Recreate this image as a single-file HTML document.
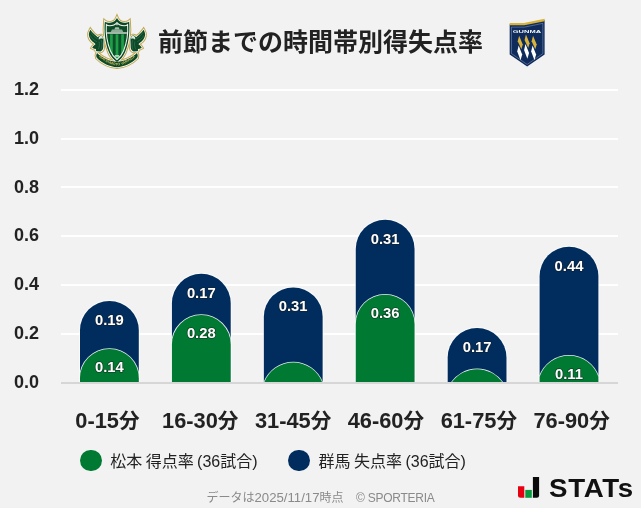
<!DOCTYPE html>
<html lang="ja">
<head>
<meta charset="utf-8">
<title>前節までの時間帯別得失点率</title>
<style>
html,body{margin:0;padding:0;}
body{width:641px;height:508px;background:#f2f2f2;position:relative;overflow:hidden;
font-family:"Liberation Sans","Noto Sans CJK JP",sans-serif;color:#222;}
.title{position:absolute;left:0;width:641px;top:21.5px;text-align:center;font-size:25px;font-weight:700;line-height:40px;letter-spacing:0px;color:#222;white-space:nowrap;}
.yl{position:absolute;left:14px;font-size:18px;font-weight:700;line-height:24px;height:24px;color:#222;}
.xl .k{font-size:20.6px;}
.xl{position:absolute;top:406.8px;width:120px;text-align:center;font-size:21.8px;font-weight:700;line-height:28px;color:#222;white-space:nowrap;}
svg.chart{position:absolute;left:0;top:0;}
.dl{font-family:"Liberation Sans","Noto Sans CJK JP",sans-serif;font-size:14.8px;letter-spacing:0px;font-weight:700;fill:#fff;text-anchor:middle;paint-order:stroke;stroke:#1a1a1a;stroke-width:1.6px;stroke-linejoin:round;stroke-opacity:.55}
.lg{position:absolute;top:449.5px;height:24px;line-height:24px;font-size:16px;word-spacing:-1px;color:#222;white-space:nowrap;}
.dot{position:absolute;width:21.6px;height:21.6px;border-radius:50%;top:449.5px;}
.foot{position:absolute;top:489px;font-size:12px;line-height:18px;color:#8a8a8a;white-space:nowrap;}
.foot .n{font-size:13.2px;}
.foot2{position:absolute;top:488.9px;left:356px;font-size:12px;letter-spacing:-.25px;line-height:18px;color:#8a8a8a;white-space:nowrap;}
.stats{position:absolute;left:548.5px;top:472.9px;font-size:25.2px;font-weight:700;line-height:30px;color:#111;letter-spacing:.6px;white-space:nowrap;transform:scaleX(1.10);transform-origin:0 0;}
</style>
</head>
<body>
<svg class="chart" width="641" height="508" viewBox="0 0 641 508">
<rect x="61" y="333" width="557" height="2" fill="#ffffff"/>
<rect x="61" y="284" width="557" height="2" fill="#ffffff"/>
<rect x="61" y="235" width="557" height="2" fill="#ffffff"/>
<rect x="61" y="186" width="557" height="2" fill="#ffffff"/>
<rect x="61" y="138" width="557" height="2" fill="#ffffff"/>
<rect x="61" y="89" width="557" height="2" fill="#ffffff"/>
<clipPath id="ca"><rect x="0" y="0" width="641" height="382"/></clipPath><g clip-path="url(#ca)">
<path d="M80.00,422.80 L80.00,330.37 A29.40,29.40 0 0 1 138.80,330.37 L138.80,422.80 Z" fill="none" stroke="#ffffff" stroke-opacity="0.6" stroke-width="2"/><path d="M80.00,422.80 L80.00,330.37 A29.40,29.40 0 0 1 138.80,330.37 L138.80,422.80 Z" fill="#002d5e"/>
<path d="M80.00,422.80 L80.00,378.31 A29.40,29.40 0 0 1 138.80,378.31 L138.80,422.80 Z" fill="none" stroke="#ffffff" stroke-opacity="0.9" stroke-width="1.5"/>
<path d="M80.00,422.80 L80.00,378.31 A29.40,29.40 0 0 1 138.80,378.31 L138.80,422.80 Z" fill="#007a33"/>
<text class="dl" x="109.4" y="325.0">0.19</text>
<text class="dl" x="109.4" y="372.3">0.14</text>
<path d="M171.92,422.80 L171.92,303.26 A29.40,29.40 0 0 1 230.72,303.26 L230.72,422.80 Z" fill="none" stroke="#ffffff" stroke-opacity="0.6" stroke-width="2"/><path d="M171.92,422.80 L171.92,303.26 A29.40,29.40 0 0 1 230.72,303.26 L230.72,422.80 Z" fill="#002d5e"/>
<path d="M171.92,422.80 L171.92,344.42 A29.40,29.40 0 0 1 230.72,344.42 L230.72,422.80 Z" fill="none" stroke="#ffffff" stroke-opacity="0.9" stroke-width="1.5"/>
<path d="M171.92,422.80 L171.92,344.42 A29.40,29.40 0 0 1 230.72,344.42 L230.72,422.80 Z" fill="#007a33"/>
<text class="dl" x="201.3" y="297.9">0.17</text>
<text class="dl" x="201.3" y="338.4">0.28</text>
<path d="M263.84,422.80 L263.84,316.81 A29.40,29.40 0 0 1 322.64,316.81 L322.64,422.80 Z" fill="none" stroke="#ffffff" stroke-opacity="0.6" stroke-width="2"/><path d="M263.84,422.80 L263.84,316.81 A29.40,29.40 0 0 1 322.64,316.81 L322.64,422.80 Z" fill="#002d5e"/>
<path d="M264.13,382.80 A31.00,31.00 0 0 1 322.35,382.80 Z" fill="none" stroke="#ffffff" stroke-opacity="0.9" stroke-width="1.5"/>
<path d="M264.13,382.80 A31.00,31.00 0 0 1 322.35,382.80 Z" fill="#007a33"/>
<text class="dl" x="293.2" y="311.4">0.31</text>
<path d="M355.76,422.80 L355.76,249.03 A29.40,29.40 0 0 1 414.56,249.03 L414.56,422.80 Z" fill="none" stroke="#ffffff" stroke-opacity="0.6" stroke-width="2"/><path d="M355.76,422.80 L355.76,249.03 A29.40,29.40 0 0 1 414.56,249.03 L414.56,422.80 Z" fill="#002d5e"/>
<path d="M355.76,422.80 L355.76,324.09 A29.40,29.40 0 0 1 414.56,324.09 L414.56,422.80 Z" fill="none" stroke="#ffffff" stroke-opacity="0.9" stroke-width="1.5"/>
<path d="M355.76,422.80 L355.76,324.09 A29.40,29.40 0 0 1 414.56,324.09 L414.56,422.80 Z" fill="#007a33"/>
<text class="dl" x="385.2" y="243.6">0.31</text>
<text class="dl" x="385.2" y="318.1">0.36</text>
<path d="M447.68,422.80 L447.68,357.48 A29.40,29.40 0 0 1 506.48,357.48 L506.48,422.80 Z" fill="none" stroke="#ffffff" stroke-opacity="0.6" stroke-width="2"/><path d="M447.68,422.80 L447.68,357.48 A29.40,29.40 0 0 1 506.48,357.48 L506.48,422.80 Z" fill="#002d5e"/>
<path d="M451.45,382.80 A31.00,31.00 0 0 1 502.71,382.80 Z" fill="none" stroke="#ffffff" stroke-opacity="0.9" stroke-width="1.5"/>
<path d="M451.45,382.80 A31.00,31.00 0 0 1 502.71,382.80 Z" fill="#007a33"/>
<text class="dl" x="477.1" y="352.1">0.17</text>
<path d="M539.60,422.80 L539.60,276.14 A29.40,29.40 0 0 1 598.40,276.14 L598.40,422.80 Z" fill="none" stroke="#ffffff" stroke-opacity="0.6" stroke-width="2"/><path d="M539.60,422.80 L539.60,276.14 A29.40,29.40 0 0 1 598.40,276.14 L598.40,422.80 Z" fill="#002d5e"/>
<path d="M539.60,422.80 L539.60,376.86 A31.00,31.00 0 0 1 598.40,376.86 L598.40,422.80 Z" fill="none" stroke="#ffffff" stroke-opacity="0.9" stroke-width="1.5"/>
<path d="M539.60,422.80 L539.60,376.86 A31.00,31.00 0 0 1 598.40,376.86 L598.40,422.80 Z" fill="#007a33"/>
<text class="dl" x="569.0" y="270.7">0.44</text>
<text class="dl" x="569.0" y="379.1">0.11</text>
</g>
<rect x="61" y="382" width="557" height="2" fill="#d6d6d6"/>
</svg>
<div class="title">前節までの時間帯別得失点率</div>
<div class="yl" style="top:369.7px">0.0</div>
<div class="yl" style="top:320.9px">0.2</div>
<div class="yl" style="top:272.1px">0.4</div>
<div class="yl" style="top:223.3px">0.6</div>
<div class="yl" style="top:174.5px">0.8</div>
<div class="yl" style="top:125.7px">1.0</div>
<div class="yl" style="top:76.9px">1.2</div>

<div class="xl" style="left:47.4px">0-15<span class="k">分</span></div>
<div class="xl" style="left:140.2px">16-30<span class="k">分</span></div>
<div class="xl" style="left:233.1px">31-45<span class="k">分</span></div>
<div class="xl" style="left:325.9px">46-60<span class="k">分</span></div>
<div class="xl" style="left:418.8px">61-75<span class="k">分</span></div>
<div class="xl" style="left:511.6px">76-90<span class="k">分</span></div>

<div class="dot" style="left:80.2px;background:#007a33"></div>
<div class="lg" style="left:110.2px">松本 得点率 (36試合)</div>
<div class="dot" style="left:288.4px;background:#002d5e"></div>
<div class="lg" style="left:318.6px">群馬 失点率 (36試合)</div>
<div class="foot" style="left:206.5px">データは<span class="n">2025/11/17</span>時点</div>
<div class="foot2">© SPORTERIA</div>
<svg style="position:absolute;left:516px;top:475px" width="26" height="24" viewBox="516 475 26 24">
<path d="M518,486.2 h6.3 v11.6 h-3.8 a2.5,2.5 0 0 1 -2.5,-2.5 z" fill="#e60012"/>
<rect x="525.3" y="489.9" width="6.5" height="7.9" fill="#089a3f"/>
<path d="M532.9,477 h6.2 v18.3 a2.5,2.5 0 0 1 -2.5,2.5 h-3.7 z" fill="#0a0a0a"/>
</svg>
<div class="stats">STATs</div>
<svg style="position:absolute;left:80px;top:10px" width="70" height="65" viewBox="0 0 547 508">
<path d="M81,155C72,170,67,186,70,202C74,224,90,246,112,258C118,262,122,266,119,270C110,276,101,284,95,295C105,301,116,305,126,305C122,313,124,321,130,323L160,325C174,319,182,305,182,291L184,234C184,216,178,204,166,200C156,198,146,204,140,212C122,202,98,180,81,155Z" fill="#c2a958" stroke="#c2a958" stroke-width="28" stroke-linejoin="miter" stroke-miterlimit="3"/>
<path d="M497,155 C506,170 511,186 508,202 C504,224 488,246 466,258 C460,262 456,266 459,270 C468,276 477,284 483,295 C473,301 462,305 452,305 C456,313 454,321 448,323 L418,325 C404,319 396,305 396,291 L394,234 C394,216 400,204 412,200 C422,198 432,204 438,212 C456,202 480,180 497,155 Z" fill="#c2a958" stroke="#c2a958" stroke-width="28" stroke-linejoin="miter" stroke-miterlimit="3"/>
<path d="M133,337 C170,372 235,405 289,405 C343,405 408,372 445,337 C453,350 453,362 447,374 C408,415 343,447 289,447 C235,447 170,415 131,374 C125,362 125,350 133,337 Z" fill="#c2a958" stroke="#c2a958" stroke-width="28" stroke-linejoin="miter" stroke-miterlimit="3"/>
<path d="M289,61 C297,80 318,100 345,100 C362,100 375,97 384,89 C390,150 386,250 352,330 C336,366 312,392 289,406 C266,392 242,366 226,330 C192,250 188,150 194,89 C203,97 216,100 233,100 C260,100 281,80 289,61 Z" fill="#c2a958" stroke="#c2a958" stroke-width="28" stroke-linejoin="miter" stroke-miterlimit="3"/>
<path d="M81,155C72,170,67,186,70,202C74,224,90,246,112,258C118,262,122,266,119,270C110,276,101,284,95,295C105,301,116,305,126,305C122,313,124,321,130,323L160,325C174,319,182,305,182,291L184,234C184,216,178,204,166,200C156,198,146,204,140,212C122,202,98,180,81,155Z" fill="#fffdf2" stroke="#fffdf2" stroke-width="12" stroke-linejoin="miter" stroke-miterlimit="3"/>
<path d="M497,155 C506,170 511,186 508,202 C504,224 488,246 466,258 C460,262 456,266 459,270 C468,276 477,284 483,295 C473,301 462,305 452,305 C456,313 454,321 448,323 L418,325 C404,319 396,305 396,291 L394,234 C394,216 400,204 412,200 C422,198 432,204 438,212 C456,202 480,180 497,155 Z" fill="#fffdf2" stroke="#fffdf2" stroke-width="12" stroke-linejoin="miter" stroke-miterlimit="3"/>
<path d="M133,337 C170,372 235,405 289,405 C343,405 408,372 445,337 C453,350 453,362 447,374 C408,415 343,447 289,447 C235,447 170,415 131,374 C125,362 125,350 133,337 Z" fill="#fffdf2" stroke="#fffdf2" stroke-width="12" stroke-linejoin="miter" stroke-miterlimit="3"/>
<path d="M289,61 C297,80 318,100 345,100 C362,100 375,97 384,89 C390,150 386,250 352,330 C336,366 312,392 289,406 C266,392 242,366 226,330 C192,250 188,150 194,89 C203,97 216,100 233,100 C260,100 281,80 289,61 Z" fill="#fffdf2" stroke="#fffdf2" stroke-width="12" stroke-linejoin="miter" stroke-miterlimit="3"/>
<path d="M81,155C72,170,67,186,70,202C74,224,90,246,112,258C118,262,122,266,119,270C110,276,101,284,95,295C105,301,116,305,126,305C122,313,124,321,130,323L160,325C174,319,182,305,182,291L184,234C184,216,178,204,166,200C156,198,146,204,140,212C122,202,98,180,81,155Z" fill="#0c4a27"/>
<path d="M497,155 C506,170 511,186 508,202 C504,224 488,246 466,258 C460,262 456,266 459,270 C468,276 477,284 483,295 C473,301 462,305 452,305 C456,313 454,321 448,323 L418,325 C404,319 396,305 396,291 L394,234 C394,216 400,204 412,200 C422,198 432,204 438,212 C456,202 480,180 497,155 Z" fill="#0c4a27"/>
<path d="M88,178C100,198,116,214,134,224M80,200C92,222,110,238,128,246M166,236C174,256,174,284,166,306M150,250C154,268,152,288,144,304" stroke="#4a8160" stroke-width="4" fill="none" stroke-linecap="round"/>
<path d="M490,178C478,198,462,214,444,224M498,200C486,222,468,238,450,246M412,236C404,256,404,284,412,306M428,250C424,268,426,288,434,304" stroke="#4a8160" stroke-width="4" fill="none" stroke-linecap="round"/>
<path d="M178,214C176,204,164,200,154,206C146,212,144,222,148,232C154,224,164,220,178,226Z" fill="#dfe8df"/>
<path d="M400,214C402,204,414,200,424,206C432,212,434,222,430,232C424,224,414,220,400,226Z" fill="#dfe8df"/>
<path d="M289,61 C297,80 318,100 345,100 C362,100 375,97 384,89 C390,150 386,250 352,330 C336,366 312,392 289,406 C266,392 242,366 226,330 C192,250 188,150 194,89 C203,97 216,100 233,100 C260,100 281,80 289,61 Z" fill="#0c4a27"/>
<clipPath id="mclip"><path d="M289,99 C300,112 322,123 345,123 C358,123 367,120 372,115 C376,170 368,250 340,320 C328,350 308,372 289,387 C270,372 250,350 238,320 C210,250 202,170 206,115 C211,120 220,123 233,123 C256,123 278,112 289,99 Z"/></clipPath>
<g clip-path="url(#mclip)">
<rect x="195" y="80" width="190" height="112" fill="#0c4a27"/>
<rect x="195" y="190" width="190" height="210" fill="#0a5127"/>
<rect x="235" y="190" width="21" height="210" fill="#1f9d49"/>
<rect x="278.5" y="190" width="21" height="210" fill="#1f9d49"/>
<rect x="322" y="190" width="21" height="210" fill="#1f9d49"/>
<rect x="212" y="172" width="154" height="14" fill="#c2d3c6"/>
<path d="M240,171 L250,152 L328,152 L338,171 Z" fill="#8fae9a"/>
<path d="M268,152 L276,134 L302,134 L310,152 Z" fill="#a9c1b0"/>
<circle cx="289" cy="113" r="7" fill="#b5cabb"/>
<rect x="212" y="176" width="154" height="3" fill="#0c4a27" opacity=".5"/>
<rect x="272" y="352" width="34" height="14" fill="#d4e2d6" opacity=".85"/>
</g>
<path d="M289,99 C300,112 322,123 345,123 C358,123 367,120 372,115 C376,170 368,250 340,320 C328,350 308,372 289,387 C270,372 250,350 238,320 C210,250 202,170 206,115 C211,120 220,123 233,123 C256,123 278,112 289,99 Z" fill="none" stroke="#f1f5ee" stroke-width="8" stroke-linejoin="miter"/>
<path d="M133,337 C170,372 235,405 289,405 C343,405 408,372 445,337 C453,350 453,362 447,374 C408,415 343,447 289,447 C235,447 170,415 131,374 C125,362 125,350 133,337 Z" fill="#0c4a27"/>
<path id="rbp" d="M146,366 C190,402 245,434 289,434 C333,434 388,402 432,366" fill="none"/>
<text font-family="Liberation Sans,sans-serif" font-weight="700" font-size="29" fill="#d0b658" letter-spacing="0"><textPath href="#rbp" startOffset="50%" text-anchor="middle">MATSUMOTO YAMAGA</textPath></text>
</svg>
<svg style="position:absolute;left:500px;top:12px" width="55" height="60" viewBox="0 0 466 508">
<path d="M82,104 L205,104 L378,68 L378,360 L230,462 L82,360 Z" fill="#0e2b5c"/>
<path d="M82,93 L203,93 L378,57 L378,78 L206,113 L82,113 Z" fill="#d8b23a"/>
<path d="M97,128 L207,128 L363,96 L363,352 L230,444 L97,352 Z" fill="none" stroke="#cfd6e6" stroke-width="3"/>
<text x="228" y="179" text-anchor="middle" font-family="Liberation Sans,sans-serif" font-weight="700" font-size="34" fill="#f4f6fa" textLength="240" lengthAdjust="spacingAndGlyphs">GUNMA</text>
<path d="M162,202 L193,276 L181,316 L150,248 Z" fill="#d8b23a"/>
<path d="M158,284 L188,360 L174,408 L146,334 Z" fill="#ffffff"/>
<path d="M220,190 L251,264 L239,304 L208,236 Z" fill="#d8b23a"/>
<path d="M216,272 L246,348 L232,396 L204,322 Z" fill="#ffffff"/>
<path d="M280,202 L311,276 L299,316 L268,248 Z" fill="#d8b23a"/>
<path d="M276,284 L306,360 L292,408 L264,334 Z" fill="#ffffff"/>
</svg>
</body>
</html>
